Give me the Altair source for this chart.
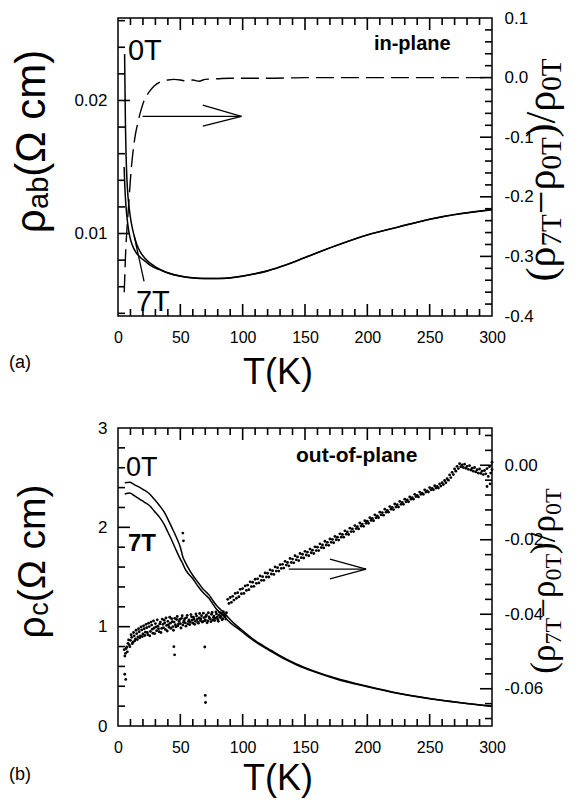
import altair as alt
import pandas as pd

# ---------------- panel (a): in-plane ----------------
T_ab_0T = [5.3, 5.6, 6.0, 6.5, 7.2, 8.0, 9.0, 10.5, 12.5, 15, 18, 22, 26, 30, 35, 40, 50, 60, 70, 80,
           90, 100, 110, 120, 135, 150, 175, 200, 225, 250, 275, 300]
rho_ab_0T = [0.0235, 0.0210, 0.0180, 0.0158, 0.0140, 0.0128, 0.0119, 0.0109, 0.0100, 0.0092, 0.0086,
             0.0081, 0.00775, 0.0075, 0.00725, 0.00705, 0.00680, 0.00667, 0.00662, 0.00662, 0.00667,
             0.00680, 0.00698, 0.00720, 0.00765, 0.00820, 0.00910, 0.00990, 0.01050, 0.01108,
             0.01150, 0.01180]
T_ab_7T = [4.9, 5.5, 6.2, 7.0, 8.0, 9.0, 10.5, 12.5, 15, 18, 22, 26, 30, 35, 40, 50, 60, 70, 80,
           90, 100, 110, 120, 135, 150, 175, 200, 225, 250, 275, 300]
rho_ab_7T = [0.0150, 0.0135, 0.0123, 0.0114, 0.0106, 0.0100, 0.0094, 0.0089, 0.0085, 0.0082, 0.0079,
             0.0076, 0.0074, 0.00722, 0.00703, 0.00679, 0.00666, 0.00661, 0.00661, 0.00666,
             0.00679, 0.00697, 0.00719, 0.00764, 0.00819, 0.00909, 0.00989, 0.01049, 0.01107,
             0.01149, 0.01179]
T_ab_ratio = [5.0, 5.5, 6.0, 7.0, 8.0, 9.0, 10.0, 11.0, 12.0, 14.0, 16.0, 18.0, 21.0, 25.0, 29.0, 34.0,
              40.0, 45.0, 50.0, 55.0, 60.0, 65.0, 70.0, 80.0, 90.0, 100, 125, 150, 175, 200, 225, 250,
              275, 300]
ratio_ab = [-0.36, -0.33, -0.30, -0.26, -0.23, -0.20, -0.17, -0.145, -0.125, -0.095, -0.075, -0.058,
            -0.038, -0.024, -0.014, -0.007, -0.004, -0.003, -0.004, -0.006, -0.004, -0.006, -0.003,
            -0.002, -0.001, -0.001, -0.001, 0.0, 0.0, 0.0, 0.0, 0.0, 0.0, 0.0]
# arrow + pointer segments (T, rho) -> (T2, rho2)
seg_ab_T = [19.7, 68, 68, 20.9]
seg_ab_rho = [0.0188, 0.01965, 0.01807, 0.0064]
seg_ab_T2 = [99, 99, 99, 13]
seg_ab_rho2 = [0.0188, 0.0188, 0.0188, 0.0098]

# ---------------- panel (b): out-of-plane ----------------
T_c = [5.4, 9.4, 13, 17.4, 21, 25.4, 29, 33.4, 37, 40.1, 43.5, 46.8, 50, 52.1, 53.5, 56, 60.2, 64,
       68.2, 71, 73, 75.5, 78.9, 82.9, 86.9, 90.9, 94.9, 102.9, 110, 116.3, 123, 129.6, 143, 156.4,
       175, 200, 225, 250, 275, 300]
rho_c_0T = [2.45, 2.453, 2.43, 2.403, 2.375, 2.336, 2.285, 2.218, 2.155, 2.08, 1.99, 1.90, 1.80, 1.70,
            1.66, 1.60, 1.513, 1.45, 1.38, 1.345, 1.32, 1.275, 1.215, 1.165, 1.114, 1.06, 1.013, 0.93,
            0.86, 0.81, 0.76, 0.71, 0.624, 0.557, 0.48, 0.40, 0.33, 0.277, 0.235, 0.20]
rho_c_7T = [2.336, 2.346, 2.32, 2.285, 2.255, 2.218, 2.165, 2.10, 2.03, 1.95, 1.86, 1.765, 1.68, 1.63,
            1.59, 1.54, 1.48, 1.41, 1.345, 1.31, 1.285, 1.24, 1.178, 1.13, 1.077, 1.03, 0.993, 0.915,
            0.85, 0.80, 0.75, 0.70, 0.617, 0.55, 0.473, 0.395, 0.327, 0.274, 0.233, 0.198]

T_low_a = list(range(5, 88))
r_low_a = [-0.0495, -0.0505, -0.0488, -0.0478, -0.0482, -0.0470, -0.0462, -0.0475, -0.0458, -0.0466,
           -0.0452, -0.0461, -0.0447, -0.0458, -0.0442, -0.0453, -0.0439, -0.0448, -0.0436, -0.0455,
           -0.0433, -0.0446, -0.0429, -0.0451, -0.0437, -0.0425, -0.0444, -0.0432, -0.0447, -0.0421,
           -0.0438, -0.0427, -0.0416, -0.0441, -0.0430, -0.0419, -0.0435, -0.0424, -0.0412, -0.0433,
           -0.0421, -0.0428, -0.0414, -0.0431, -0.0419, -0.0425, -0.0411, -0.0429, -0.0417, -0.0423,
           -0.0409, -0.0426, -0.0415, -0.0421, -0.0407, -0.0424, -0.0413, -0.0419, -0.0405, -0.0422,
           -0.0410, -0.0417, -0.0404, -0.0420, -0.0409, -0.0415, -0.0402, -0.0418, -0.0407, -0.0413,
           -0.0400, -0.0416, -0.0405, -0.0411, -0.0399, -0.0414, -0.0403, -0.0409, -0.0398, -0.0412,
           -0.0401, -0.0407, -0.0396]
T_low_b = [t + 0.5 for t in range(5, 87)]
r_low_b = [-0.0512, -0.0492, -0.0501, -0.0469, -0.0487, -0.0455, -0.0479, -0.0449, -0.0471, -0.0443,
           -0.0468, -0.0439, -0.0463, -0.0434, -0.0460, -0.0431, -0.0457, -0.0427, -0.0449, -0.0424,
           -0.0458, -0.0421, -0.0440, -0.0418, -0.0452, -0.0434, -0.0415, -0.0439, -0.0426, -0.0449,
           -0.0413, -0.0436, -0.0423, -0.0410, -0.0445, -0.0428, -0.0408, -0.0438, -0.0420, -0.0443,
           -0.0411, -0.0434, -0.0406, -0.0426, -0.0414, -0.0437, -0.0404, -0.0422, -0.0412, -0.0432,
           -0.0403, -0.0419, -0.0428, -0.0401, -0.0416, -0.0408, -0.0427, -0.0399, -0.0414, -0.0424,
           -0.0398, -0.0412, -0.0421, -0.0397, -0.0418, -0.0406, -0.0423, -0.0396, -0.0411, -0.0420,
           -0.0395, -0.0409, -0.0417, -0.0394, -0.0408, -0.0419, -0.0395, -0.0406, -0.0415, -0.0393,
           -0.0404, -0.0413]
T_up_a = list(range(88, 301, 2))
r_up_a = [-0.0360, -0.0355, -0.0352, -0.0344, -0.0342, -0.0333, -0.0331, -0.0324, -0.0322, -0.0313,
          -0.0314, -0.0306, -0.0305, -0.0297, -0.0299, -0.0289, -0.0290, -0.0281, -0.0283, -0.0273,
          -0.0275, -0.0267, -0.0266, -0.0258, -0.0261, -0.0250, -0.0252, -0.0243, -0.0246, -0.0237,
          -0.0239, -0.0231, -0.0233, -0.0225, -0.0228, -0.0219, -0.0220, -0.0211, -0.0214, -0.0204,
          -0.0207, -0.0198, -0.0199, -0.0191, -0.0193, -0.0184, -0.0186, -0.0176, -0.0179, -0.0169,
          -0.0171, -0.0162, -0.0165, -0.0155, -0.0158, -0.0149, -0.0150, -0.0141, -0.0143, -0.0133,
          -0.0136, -0.0126, -0.0127, -0.0118, -0.0121, -0.0111, -0.0113, -0.0104, -0.0106, -0.0097,
          -0.0100, -0.0091, -0.0093, -0.0085, -0.0087, -0.0078, -0.0081, -0.0072, -0.0075, -0.0066,
          -0.0069, -0.0060, -0.0062, -0.0055, -0.0057, -0.0050, -0.0047, -0.0041, -0.0036, -0.0026,
          -0.0019, -0.0010, -0.0003, 0.0004, 0.0001, 0.0003, -0.0003, -0.0001, -0.0008, -0.0006,
          -0.0012, -0.0010, -0.0016, -0.0014, -0.0009, -0.0004, -0.0012]
T_up_b = list(range(89, 300, 2))
r_up_b = [-0.0371, -0.0368, -0.0362, -0.0357, -0.0353, -0.0345, -0.0344, -0.0336, -0.0334, -0.0326,
          -0.0325, -0.0317, -0.0316, -0.0309, -0.0309, -0.0300, -0.0300, -0.0292, -0.0293, -0.0284,
          -0.0284, -0.0277, -0.0276, -0.0268, -0.0270, -0.0261, -0.0262, -0.0254, -0.0256, -0.0248,
          -0.0249, -0.0241, -0.0243, -0.0235, -0.0237, -0.0229, -0.0229, -0.0221, -0.0222, -0.0214,
          -0.0215, -0.0207, -0.0208, -0.0200, -0.0201, -0.0193, -0.0193, -0.0185, -0.0186, -0.0178,
          -0.0178, -0.0170, -0.0171, -0.0163, -0.0164, -0.0156, -0.0156, -0.0148, -0.0149, -0.0141,
          -0.0141, -0.0133, -0.0134, -0.0126, -0.0126, -0.0118, -0.0119, -0.0112, -0.0112, -0.0105,
          -0.0105, -0.0098, -0.0098, -0.0091, -0.0091, -0.0084, -0.0085, -0.0078, -0.0078, -0.0072,
          -0.0072, -0.0066, -0.0066, -0.0061, -0.0061, -0.0056, -0.0052, -0.0047, -0.0040, -0.0033,
          -0.0025, -0.0016, -0.0009, -0.0004, -0.0006, -0.0008, -0.0011, -0.0013, -0.0016, -0.0018,
          -0.0021, -0.0022, -0.0025, -0.0023, -0.0030, -0.0021]
T_out = [5.4, 6.2, 44.8, 45.4, 52.0, 52.5, 69.6, 70.0, 70.2, 296, 298.5, 300]
r_out = [-0.0561, -0.0575, -0.0487, -0.0509, -0.0182, -0.0203, -0.0488, -0.0618, -0.0637,
         -0.0057, -0.0050, 0.0008]
seg_c_T = [137, 170, 170]
seg_c_rho = [1.58, 1.681, 1.48]
seg_c_T2 = [199, 199, 199]
seg_c_rho2 = [1.58, 1.58, 1.58]

# ---------------- ticks / labels ----------------
x_labels = [0, 50, 100, 150, 200, 250, 300]
x_major_ticks = [50, 100, 150, 200, 250]
x_minor = [10, 20, 30, 40, 60, 70, 80, 90, 110, 120, 130, 140, 160, 170, 180, 190, 210, 220, 230, 240,
           260, 270, 280, 290]
ab_left_dom = [0.0038, 0.0262]
ab_left_major = [0.01, 0.02]
ab_left_minor = [0.004, 0.006, 0.008, 0.012, 0.014, 0.016, 0.018, 0.022, 0.024, 0.026]
ab_right_dom = [-0.4, 0.1]
ab_right_major = [-0.4, -0.3, -0.2, -0.1, 0.0, 0.1]
ab_right_major_ticks = [-0.3, -0.2, -0.1, 0.0]
ab_right_minor = [-0.38, -0.36, -0.34, -0.32, -0.28, -0.26, -0.24, -0.22, -0.18, -0.16, -0.14, -0.12,
                  -0.08, -0.06, -0.04, -0.02, 0.02, 0.04, 0.06, 0.08]
c_left_dom = [0, 3]
c_left_major = [0, 1, 2, 3]
c_left_major_ticks = [1, 2]
c_left_minor = [0.2, 0.4, 0.6, 0.8, 1.2, 1.4, 1.6, 1.8, 2.2, 2.4, 2.6, 2.8]
c_right_dom = [-0.07, 0.01]
c_right_major = [-0.06, -0.04, -0.02, 0.0]
c_right_minor = [-0.068, -0.064, -0.056, -0.052, -0.048, -0.044, -0.036, -0.032, -0.028, -0.024,
                 -0.016, -0.012, -0.008, -0.004, 0.004, 0.008]

W, H = 374, 298
SANS = "Liberation Sans, Arial, Helvetica, sans-serif"
SERIF = "Liberation Serif, Times New Roman, Times, serif"
MAJ, MIN = 12, 7
XDOM = [0, 300]
TICK_COLOR = "black"
TICK_W = 1.6
one = pd.DataFrame({"k": [0]})

xscale = alt.Scale(domain=XDOM, nice=False, zero=False)
xaxis = alt.Axis(values=x_labels, title=None, ticks=False, tickSize=0, domain=False, grid=False,
                 labelFontSize=16, labelPadding=13, labelFont=SANS, labelColor="black",
                 labelFlush=False, labelOverlap=False)


def X(f):
    return alt.X(f, type="quantitative", scale=xscale, axis=xaxis)


def make_Y(domain, values, orient, label_expr, pad):
    sc = alt.Scale(domain=domain, nice=False, zero=False)
    ax = alt.Axis(values=values, orient=orient, title=None, ticks=False, tickSize=0, domain=False,
                  grid=False, labelFontSize=17, labelPadding=pad, labelExpr=label_expr,
                  labelFont=SANS, labelColor="black", labelFlush=False, labelOverlap=False)

    def Y(f):
        return alt.Y(f, type="quantitative", scale=sc, axis=ax)
    return Y


def line(T, v, Y, dash=None, sw=1.5):
    df = pd.DataFrame({"T": T, "v": v})
    kw = dict(color="black", strokeWidth=sw, interpolate="monotone")
    if dash:
        kw["strokeDash"] = dash
    return alt.Chart(df).mark_line(**kw).encode(x=X("T"), y=Y("v"), order="T:Q")


def segs(T, v, T2, v2, Y, sw=1.3, color="black"):
    df = pd.DataFrame({"T": T, "v": v, "T2": T2, "v2": v2})
    return alt.Chart(df).mark_rule(color=color, strokeWidth=sw).encode(
        x=X("T"), y=Y("v"), x2="T2", y2="v2")


def xticks(vals, L, Y, ydom):
    """Inward ticks on bottom and top edges, drawn through the scales."""
    d = (ydom[1] - ydom[0]) * L / H
    n = len(vals)
    bot = segs(vals, [ydom[0]] * n, vals, [ydom[0] + d] * n, Y, TICK_W, TICK_COLOR)
    top = segs(vals, [ydom[1] - d] * n, vals, [ydom[1]] * n, Y, TICK_W, TICK_COLOR)
    return [bot, top]


def yticks(vals, L, Y, side):
    d = (XDOM[1] - XDOM[0]) * L / W
    n = len(vals)
    if side == "left":
        return segs([XDOM[0]] * n, vals, [XDOM[0] + d] * n, vals, Y, TICK_W, TICK_COLOR)
    return segs([XDOM[1] - d] * n, vals, [XDOM[1]] * n, vals, Y, TICK_W, TICK_COLOR)


def dtext(s, T, v, Y, size, weight="normal"):
    df = pd.DataFrame({"T": [T], "v": [v]})
    return alt.Chart(df).mark_text(text=s, fontSize=size, font=SANS, fontWeight=weight, align="left",
                                   baseline="alphabetic", color="black").encode(x=X("T"), y=Y("v"))


def ptext(s, x, y, size, font=SANS, angle=0, align="left", weight="normal"):
    return alt.Chart(one).mark_text(text=s, fontSize=size, font=font, angle=angle, align=align,
                                    fontWeight=weight, baseline="alphabetic", color="black").encode(
        x=alt.value(x), y=alt.value(y))


def vtitle(pieces, x_main, sub_shift, y_start, font):
    """pieces: (text, size, width_px, is_sub); drawn bottom-to-top (angle 270)."""
    out = []
    y = y_start
    for s, size, w, sub in pieces:
        out.append(ptext(s, x_main + (sub_shift if sub else 0), y, size, font=font, angle=270))
        y -= w
    return out


def right_title(S, s, y_center):
    rho = 0.5 * S
    sub_w = 1.111 * s
    pieces = [("(ρ", S, 0.333 * S + rho, False), ("7T", s, sub_w, True),
              ("−ρ", S, 0.564 * S + rho, False), ("0T", s, sub_w, True),
              (")/ρ", S, 0.611 * S + rho, False), ("0T", s, sub_w, True)]
    total = sum(p[2] for p in pieces)
    return vtitle(pieces, W + 63, 6, y_center + total / 2, SERIF)


def left_title(S, s, sub_text, sub_em, y_center):
    pieces = [("ρ", S, 0.578 * S, False), (sub_text, s, sub_em * s, True),
              ("(Ω cm)", S, 3.045 * S, False)]
    total = sum(p[2] for p in pieces)
    return vtitle(pieces, -73, 3, y_center + total / 2, SANS)


neg1 = "datum.value < 0 ? '-' + format(-datum.value, '.1f') : format(datum.value, '.1f')"
neg2 = "datum.value < 0 ? '-' + format(-datum.value, '.2f') : format(datum.value, '.2f')"

# ---------------- panel (a) ----------------
YL_a = make_Y(ab_left_dom, ab_left_major, "left", "format(datum.value, '.2f')", 11)
YR_a = make_Y(ab_right_dom, ab_right_major, "right", neg1, 12)

left_a = alt.layer(
    *xticks(x_major_ticks, MAJ, YL_a, ab_left_dom), *xticks(x_minor, MIN, YL_a, ab_left_dom),
    yticks(ab_left_major, MAJ, YL_a, "left"), yticks(ab_left_minor, MIN, YL_a, "left"),
    line(T_ab_0T, rho_ab_0T, YL_a),
    line(T_ab_7T, rho_ab_7T, YL_a),
    segs(seg_ab_T, seg_ab_rho, seg_ab_T2, seg_ab_rho2, YL_a),
    dtext("0T", 8.0, 0.02308, YL_a, 29),
    dtext("7T", 14.4, 0.00414, YL_a, 29),
    dtext("in-plane", 205.3, 0.02376, YL_a, 20, "bold"),
    ptext("(a)", -109, 350, 18),
    ptext("T(K)", 160, 366, 36, align="center"),
    *left_title(42, 29, "ab", 1.112, 123),
    *right_title(42, 29, 152),
)
right_a = alt.layer(
    yticks(ab_right_major_ticks, MAJ, YR_a, "right"), yticks(ab_right_minor, MIN, YR_a, "right"),
    line(T_ab_ratio, ratio_ab, YR_a, dash=[18, 7], sw=1.4),
)
panel_a = alt.layer(left_a, right_a).resolve_scale(y="independent").properties(width=W, height=H)

# ---------------- panel (b) ----------------
YL_c = make_Y(c_left_dom, c_left_major, "left", "format(datum.value, 'd')", 11)
YR_c = make_Y(c_right_dom, c_right_major, "right", neg2, 12)

scatter_df = pd.DataFrame({"T": T_low_a + T_low_b + T_up_a + T_up_b + T_out,
                           "v": r_low_a + r_low_b + r_up_a + r_up_b + r_out})
scatter = alt.Chart(scatter_df).mark_circle(size=8, color="black", opacity=1).encode(
    x=X("T"), y=YR_c("v"))

left_c = alt.layer(
    *xticks(x_major_ticks, MAJ, YL_c, c_left_dom), *xticks(x_minor, MIN, YL_c, c_left_dom),
    yticks(c_left_major_ticks, MAJ, YL_c, "left"), yticks(c_left_minor, MIN, YL_c, "left"),
    line(T_c, rho_c_0T, YL_c),
    line(T_c, rho_c_7T, YL_c),
    segs(seg_c_T, seg_c_rho, seg_c_T2, seg_c_rho2, YL_c),
    dtext("0T", 6.4, 2.517, YL_c, 27),
    dtext("7T", 8.0, 1.762, YL_c, 24, "bold"),
    dtext("out-of-plane", 142.8, 2.658, YL_c, 21, "bold"),
    ptext("(b)", -109, 352, 18),
    ptext("T(K)", 160, 362, 36, align="center"),
    *left_title(39, 27, "c", 0.5, 133),
    *right_title(35, 24, 153),
)
right_c = alt.layer(
    yticks(c_right_major, MAJ, YR_c, "right"), yticks(c_right_minor, MIN, YR_c, "right"),
    scatter,
)
panel_c = alt.layer(left_c, right_c).resolve_scale(y="independent").properties(width=W, height=H)

chart = alt.vconcat(panel_a, panel_c, spacing=112, bounds="flush").properties(
    padding=0, background="white"
).configure_view(stroke="black", strokeWidth=1.5)

chart.save("out.html", embed_options={"renderer": "svg", "actions": False})
